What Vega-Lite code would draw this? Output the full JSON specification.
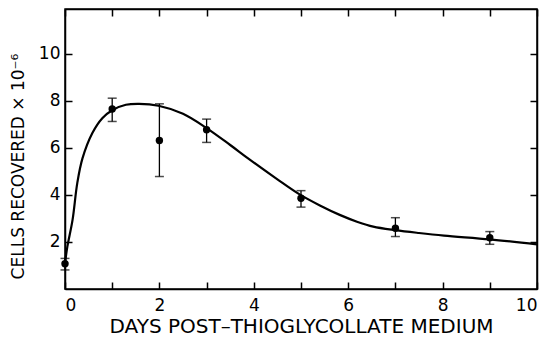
{
  "$schema": "https://vega.github.io/schema/vega-lite/v6.json",
  "width": 472,
  "height": 280,
  "padding": {"left": 65, "top": 9, "right": 4, "bottom": 50},
  "autosize": {"type": "none"},
  "background": "white",
  "config": {
    "view": {"stroke": "black", "strokeWidth": 1.5},
    "font": "DejaVu Sans",
    "axis": {
      "domainColor": "black",
      "domainWidth": 1.5,
      "tickColor": "black",
      "tickWidth": 1.5,
      "tickSize": -7,
      "grid": false,
      "labelColor": "black",
      "titleColor": "black",
      "labelFont": "DejaVu Sans",
      "titleFont": "DejaVu Sans",
      "labelFontSize": 17,
      "titleFontSize": 19,
      "titleFontWeight": "normal"
    }
  },
  "datasets": {
    "curve": [
      {"day": 0.0, "cells": 1.0},
      {"day": 0.01, "cells": 1.23},
      {"day": 0.05, "cells": 1.8},
      {"day": 0.16, "cells": 2.94},
      {"day": 0.26, "cells": 4.5},
      {"day": 0.37, "cells": 5.55},
      {"day": 0.58, "cells": 6.63},
      {"day": 0.79, "cells": 7.26},
      {"day": 1.0, "cells": 7.6},
      {"day": 1.29, "cells": 7.83},
      {"day": 1.57, "cells": 7.87},
      {"day": 1.98, "cells": 7.79},
      {"day": 2.5, "cells": 7.45},
      {"day": 3.0, "cells": 6.84},
      {"day": 3.5, "cells": 6.12},
      {"day": 3.9, "cells": 5.52},
      {"day": 4.5, "cells": 4.66},
      {"day": 4.97, "cells": 4.02},
      {"day": 5.4, "cells": 3.55},
      {"day": 5.82, "cells": 3.15},
      {"day": 6.2, "cells": 2.85},
      {"day": 6.53, "cells": 2.65},
      {"day": 7.0, "cells": 2.5},
      {"day": 7.5, "cells": 2.38},
      {"day": 8.03, "cells": 2.27},
      {"day": 9.0, "cells": 2.11},
      {"day": 10.0, "cells": 1.9}
    ],
    "points": [
      {"day": 0, "mean": 1.07, "lo": 0.81, "hi": 1.3},
      {"day": 1, "mean": 7.65, "lo": 7.12, "hi": 8.11},
      {"day": 2, "mean": 6.31, "lo": 4.78, "hi": 7.87},
      {"day": 3, "mean": 6.77, "lo": 6.23, "hi": 7.22},
      {"day": 5, "mean": 3.86, "lo": 3.48, "hi": 4.18},
      {"day": 7, "mean": 2.58, "lo": 2.23, "hi": 3.03},
      {"day": 9, "mean": 2.18, "lo": 1.9, "hi": 2.44}
    ]
  },
  "layer": [
    {
      "data": {"name": "curve"},
      "mark": {"type": "line", "interpolate": "catmull-rom", "color": "black", "strokeWidth": 2.2},
      "encoding": {
        "x": {
          "field": "day", "type": "quantitative",
          "scale": {"domain": [0, 10], "nice": false},
          "axis": {
            "orient": "bottom",
            "values": [0, 1, 2, 3, 4, 5, 6, 7, 8, 9, 10],
            "labelExpr": "datum.value % 2 == 0 ? datum.label : ''",
            "labelPadding": 15,
            "title": "DAYS POST–THIOGLYCOLLATE MEDIUM",
            "titleFontSize": 20,
            "titlePadding": 3
          }
        },
        "y": {
          "field": "cells", "type": "quantitative",
          "scale": {"domain": [0, 11.9], "nice": false},
          "axis": {
            "orient": "left",
            "values": [2, 4, 6, 8, 10],
            "labelPadding": 12,
            "title": "CELLS RECOVERED × 10⁻⁶",
            "titleFontSize": 17,
            "titleY": 157,
            "titlePadding": 11
          }
        }
      }
    },
    {
      "data": {"name": "points"},
      "mark": {"type": "errorbar", "ticks": {"size": 9, "thickness": 1.5, "color": "black"}, "rule": {"strokeWidth": 1.3, "color": "black"}},
      "encoding": {
        "x": {"field": "day", "type": "quantitative", "axis": null},
        "y": {"field": "lo", "type": "quantitative", "axis": null},
        "y2": {"field": "hi"}
      }
    },
    {
      "data": {"name": "points"},
      "mark": {"type": "point", "filled": true, "color": "black", "opacity": 1, "size": 55},
      "encoding": {
        "x": {
          "field": "day", "type": "quantitative",
          "axis": {
            "orient": "top",
            "values": [0, 1, 2, 3, 4, 5, 6, 7, 8, 9, 10],
            "labels": false,
            "title": null
          }
        },
        "y": {
          "field": "mean", "type": "quantitative",
          "axis": {
            "orient": "right",
            "values": [2, 4, 6, 8, 10],
            "labels": false,
            "title": null
          }
        }
      }
    }
  ],
  "resolve": {"axis": {"x": "independent", "y": "independent"}}
}
